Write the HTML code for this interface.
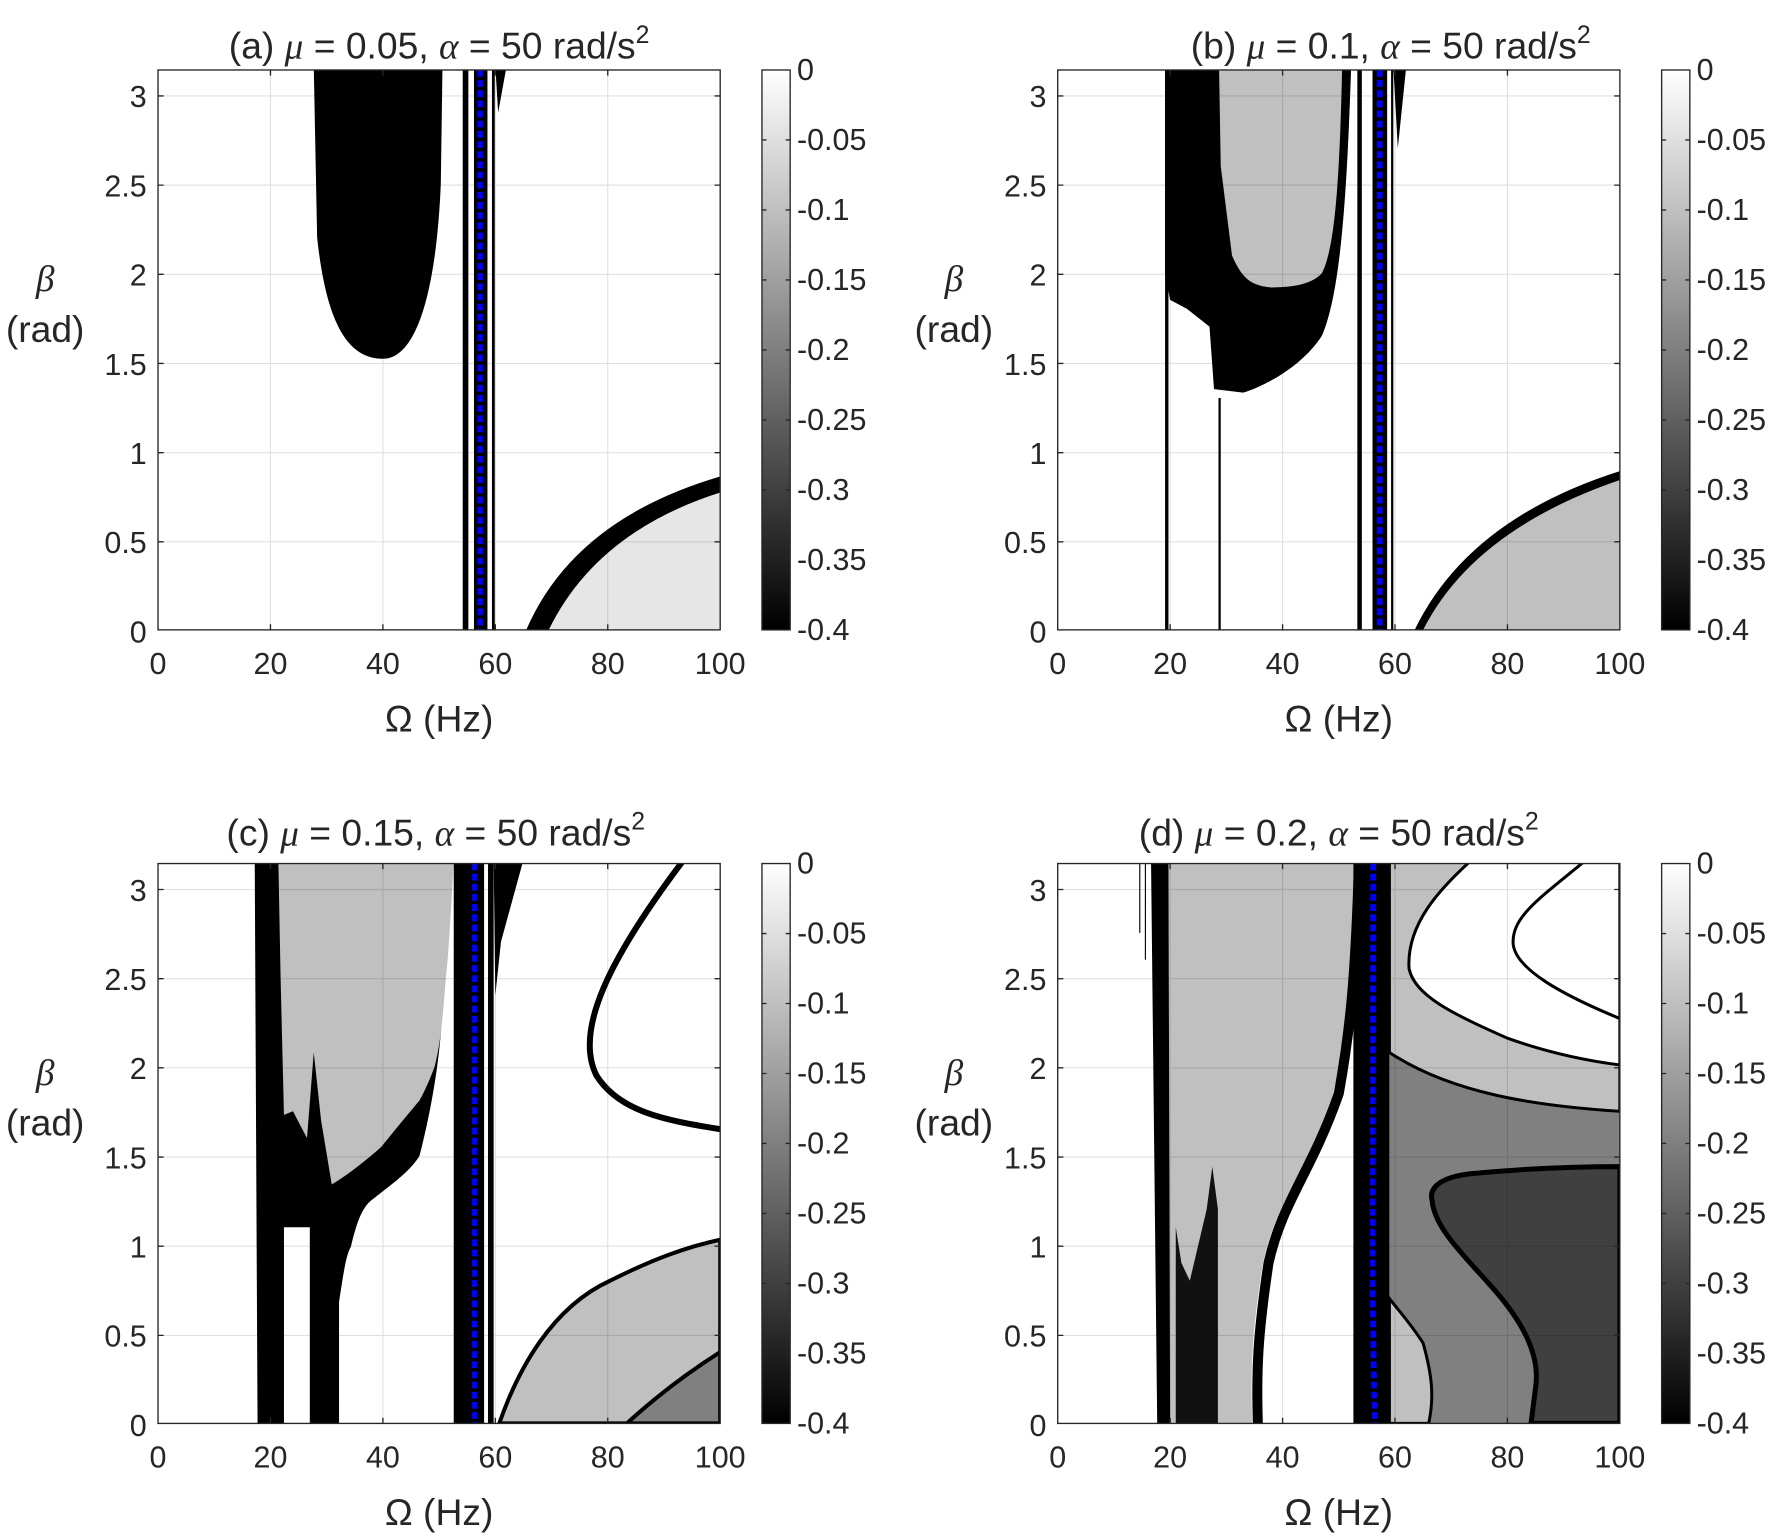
<!DOCTYPE html>
<html><head><meta charset="utf-8"><style>
html,body{margin:0;padding:0;background:#fff;}
svg{display:block;}
text{font-family:"Liberation Sans",Arial,sans-serif;fill:#262626;}
.g{font-family:"Liberation Serif","DejaVu Serif",serif;font-style:italic;}
</style></head><body>
<svg width="1770" height="1538" viewBox="0 0 1568 1362.5" preserveAspectRatio="none" xmlns="http://www.w3.org/2000/svg">
<defs>
<linearGradient id="cb" x1="0" y1="1" x2="0" y2="0"><stop offset="0" stop-color="#000"/><stop offset="1" stop-color="#fff"/></linearGradient>
<clipPath id="clp"><rect x="0" y="0" width="100" height="3.1416"/></clipPath>
</defs>

<!-- ===== Panel A ===== -->
<g transform="translate(140,558) scale(4.98,-158)" clip-path="url(#clp)">
<path d="M27.7,3.16 L28.3,2.2 C30,1.7 34,1.52 40,1.52 C46,1.52 49.5,1.9 50.3,2.5 L50.6,3.16Z" fill="#000"/>
<rect x="54.2" y="0" width="1" height="3.2" fill="#000"/>
<rect x="56.2" y="0" width="2.4" height="3.2" fill="#000"/>
<rect x="59.4" y="0" width="0.5" height="3.2" fill="#000"/>
<path d="M60,3.16 L62,3.16 L60.5,2.9Z" fill="#000"/>
<path d="M65.5,0 Q74,0.62 100,0.86 L100,0Z" fill="#000"/>
<path d="M69.5,0 Q78,0.55 100,0.77 L100,0Z" fill="#e6e6e6"/>
</g>

<!-- ===== Panel B ===== -->
<g transform="translate(937,558) scale(4.98,-158)" clip-path="url(#clp)">
<path d="M19.1,3.16 L52.2,3.16 C51.5,2.5 50.5,1.9 47,1.65 C44,1.5 38,1.38 33,1.33 L27.8,1.35 L27,1.7 L23,1.8 L20,1.85 L19.1,2.0Z" fill="#000"/>
<path d="M28.7,3.16 L50.6,3.16 C50.2,2.6 49.5,2.15 47,2.0 C45,1.93 41,1.92 38,1.92 C35,1.93 33,1.95 31,2.1 L29,2.6Z" fill="#c0c0c0"/>
<rect x="19.1" y="0" width="0.6" height="3.2" fill="#000"/>
<rect x="28.6" y="0" width="0.4" height="1.3" fill="#000"/>
<rect x="53.3" y="0" width="0.8" height="3.2" fill="#000"/>
<rect x="56.0" y="0" width="2.6" height="3.2" fill="#000"/>
<rect x="59.3" y="0" width="0.4" height="3.2" fill="#000"/>
<path d="M59.7,3.16 L62,3.16 L60.5,2.7Z" fill="#000"/>
<path d="M63.5,0 Q73,0.62 100,0.89 L100,0Z" fill="#000"/>
<path d="M65,0 Q74,0.56 100,0.84 L100,0Z" fill="#c0c0c0"/>
</g>

<!-- ===== Panel C ===== -->
<g transform="translate(140,1261) scale(4.98,-158)" clip-path="url(#clp)">
<path d="M17.7,0 L22.4,0 L22.4,1.1 L27,1.1 L27,0 L32.2,0 L32.2,0.68 C33,0.85 33.5,0.95 34.3,0.99 C35.5,1.15 36.5,1.22 38.3,1.26 C42,1.35 45,1.42 46.5,1.5 C49,1.8 50.3,2.1 50.5,2.3 L51.2,3.16 L17.2,3.16Z" fill="#000"/>
<path d="M21.4,3.16 L52.6,3.16 C52,2.8 51.6,2.6 51.2,2.5 C50.5,2.2 50,2.1 49.2,2.0 C48,1.9 47.2,1.85 46.5,1.81 C43,1.68 41,1.6 39.7,1.55 C35,1.42 32,1.36 30.9,1.34 L29,1.7 L27.7,2.08 L26.5,1.6 L24,1.75 L22.4,1.73 L21.8,2.5Z" fill="#c0c0c0"/>
<rect x="52.6" y="0" width="5.4" height="3.2" fill="#000"/>
<rect x="58.7" y="0" width="1" height="3.2" fill="#000"/>
<path d="M59.7,3.16 L65,3.16 L61,2.7 L60,2.4Z" fill="#000"/>
<path d="M60.7,0 C64,0.3 70,0.65 80.4,0.8 C88,0.92 94,0.99 100,1.03 L100,0Z" fill="#c0c0c0" stroke="#000" stroke-width="4" vector-effect="non-scaling-stroke"/>
<path d="M83.4,0 Q91,0.22 100,0.40 L100,0Z" fill="#808080" stroke="#000" stroke-width="4" vector-effect="non-scaling-stroke"/>
<path d="M94,3.18 C80,2.6 74,2.2 78,1.95 C82,1.75 90,1.7 100,1.65" fill="none" stroke="#000" stroke-width="6" vector-effect="non-scaling-stroke"/>
</g>

<!-- ===== Panel D ===== -->
<g transform="translate(937,1261) scale(4.98,-158)" clip-path="url(#clp)">
<path d="M19.7,3.16 L53,3.16 C52.5,2.5 51.5,2.2 49,1.85 C44,1.4 39,1.25 36.5,0.9 C34.5,0.5 34.3,0.3 34.6,0 L20,0Z" fill="#c0c0c0"/>
<path d="M53.6,3.16 C53,2.5 52,2.2 50,1.85 C45,1.4 40,1.25 37.5,0.9 C35.6,0.5 35.3,0.3 35.6,0" fill="none" stroke="#000" stroke-width="10" vector-effect="non-scaling-stroke"/>
<path d="M16.6,3.16 L19.7,3.16 L20,0 L17.7,0Z" fill="#000"/>
<rect x="14.5" y="2.75" width="0.2" height="0.5" fill="#000"/>
<rect x="15.5" y="2.6" width="0.2" height="0.6" fill="#000"/>
<path d="M21,0 L28.5,0 L28.5,1.2 L27.5,1.44 L26.5,1.2 L25,1.0 L23.5,0.8 L22,0.9 L21,1.1Z" fill="#111"/>
<rect x="59" y="0" width="41" height="3.2" fill="#808080"/>
<path d="M59,3.16 L100,3.16 L100,1.75 C85,1.78 70,1.85 59,2.08Z" fill="#c0c0c0" stroke="#000" stroke-width="3" vector-effect="non-scaling-stroke"/>
<path d="M74,3.17 C68,3.0 62,2.8 62.5,2.55 C63.5,2.4 70,2.3 80,2.16 C88,2.07 95,2.03 100,2.01 L100,3.17Z" fill="#fff" stroke="#000" stroke-width="3" vector-effect="non-scaling-stroke"/>
<path d="M94.8,3.18 C86,2.95 81,2.85 81,2.7 C81,2.55 90,2.4 100,2.27" fill="none" stroke="#000" stroke-width="3" vector-effect="non-scaling-stroke"/>
<path d="M59,0 L66,0 C67,0.15 66.6,0.27 65,0.45 C63,0.55 61,0.62 59,0.7Z" fill="#c0c0c0" stroke="#000" stroke-width="3" vector-effect="non-scaling-stroke"/>
<path d="M100,1.44 C90,1.44 80,1.42 73.4,1.40 C68,1.38 66,1.32 66.6,1.25 C67,1.1 72,0.95 76.8,0.78 C82,0.6 86,0.4 85,0.2 L84.2,0 L100,0Z" fill="#404040" stroke="#000" stroke-width="5" vector-effect="non-scaling-stroke"/>
<rect x="52.6" y="0" width="6.4" height="3.2" fill="#000"/>
</g>

<g fill="none" stroke="#000" stroke-opacity="0.12" stroke-width="1">
<path d="M239.6,62V558M339.2,62V558M438.8,62V558M538.4,62V558M140,85H638M140,164H638M140,243H638M140,322H638M140,401H638M140,480H638"/>
<path d="M1036.6,62V558M1136.2,62V558M1235.8,62V558M1335.4,62V558M937,85H1435M937,164H1435M937,243H1435M937,322H1435M937,401H1435M937,480H1435"/>
<path d="M239.6,765V1261M339.2,765V1261M438.8,765V1261M538.4,765V1261M140,788H638M140,867H638M140,946H638M140,1025H638M140,1104H638M140,1183H638"/>
<path d="M1036.6,765V1261M1136.2,765V1261M1235.8,765V1261M1335.4,765V1261M937,788H1435M937,867H1435M937,946H1435M937,1025H1435M937,1104H1435M937,1183H1435"/>
</g>
<g fill="none" stroke="#0000ff" stroke-width="5" stroke-dasharray="6,3">
<path d="M425.4,62V558"/>
<path d="M1222.4,62V558"/>
<path d="M420.5,765V1261"/>
<path d="M1216.5,765L1216,1150L1218,1261"/>
</g>
<g fill="none" stroke="#262626" stroke-width="1.2">
<rect x="140" y="62" width="498" height="496"/>
<rect x="937" y="62" width="498" height="496"/>
<rect x="140" y="765" width="498" height="496"/>
<rect x="937" y="765" width="498" height="496"/>
<path d="M239.6,558v-5M339.2,558v-5M438.8,558v-5M538.4,558v-5M239.6,62v5M339.2,62v5M438.8,62v5M538.4,62v5M140,85h5M140,164h5M140,243h5M140,322h5M140,401h5M140,480h5M638,85h-5M638,164h-5M638,243h-5M638,322h-5M638,401h-5M638,480h-5"/>
<path d="M1036.6,558v-5M1136.2,558v-5M1235.8,558v-5M1335.4,558v-5M1036.6,62v5M1136.2,62v5M1235.8,62v5M1335.4,62v5M937,85h5M937,164h5M937,243h5M937,322h5M937,401h5M937,480h5M1435,85h-5M1435,164h-5M1435,243h-5M1435,322h-5M1435,401h-5M1435,480h-5"/>
<path d="M239.6,1261v-5M339.2,1261v-5M438.8,1261v-5M538.4,1261v-5M239.6,765v5M339.2,765v5M438.8,765v5M538.4,765v5M140,788h5M140,867h5M140,946h5M140,1025h5M140,1104h5M140,1183h5M638,788h-5M638,867h-5M638,946h-5M638,1025h-5M638,1104h-5M638,1183h-5"/>
<path d="M1036.6,1261v-5M1136.2,1261v-5M1235.8,1261v-5M1335.4,1261v-5M1036.6,765v5M1136.2,765v5M1235.8,765v5M1335.4,765v5M937,788h5M937,867h5M937,946h5M937,1025h5M937,1104h5M937,1183h5M1435,788h-5M1435,867h-5M1435,946h-5M1435,1025h-5M1435,1104h-5M1435,1183h-5"/>
</g>

<g stroke="#262626" stroke-width="1.2">
<rect x="675" y="62" width="25" height="496" fill="url(#cb)"/>
<rect x="1472" y="62" width="25" height="496" fill="url(#cb)"/>
<rect x="675" y="765" width="25" height="496" fill="url(#cb)"/>
<rect x="1472" y="765" width="25" height="496" fill="url(#cb)"/>
<path fill="none" d="M675,124h4M675,186h4M675,248h4M675,310h4M675,372h4M675,434h4M675,496h4M700,124h-4M700,186h-4M700,248h-4M700,310h-4M700,372h-4M700,434h-4M700,496h-4"/>
<path fill="none" d="M1472,124h4M1472,186h4M1472,248h4M1472,310h4M1472,372h4M1472,434h4M1472,496h4M1497,124h-4M1497,186h-4M1497,248h-4M1497,310h-4M1497,372h-4M1497,434h-4M1497,496h-4"/>
<path fill="none" d="M675,827h4M675,889h4M675,951h4M675,1013h4M675,1075h4M675,1137h4M675,1199h4M700,827h-4M700,889h-4M700,951h-4M700,1013h-4M700,1075h-4M700,1137h-4M700,1199h-4"/>
<path fill="none" d="M1472,827h4M1472,889h4M1472,951h4M1472,1013h4M1472,1075h4M1472,1137h4M1472,1199h4M1497,827h-4M1497,889h-4M1497,951h-4M1497,1013h-4M1497,1075h-4M1497,1137h-4M1497,1199h-4"/>
</g>

<g font-size="27">
<g>
<text x="706" y="71">0</text><text x="706" y="133">-0.05</text><text x="706" y="195">-0.1</text><text x="706" y="257">-0.15</text><text x="706" y="319">-0.2</text><text x="706" y="381">-0.25</text><text x="706" y="443">-0.3</text><text x="706" y="505">-0.35</text><text x="706" y="567">-0.4</text>
<text x="1503" y="71">0</text><text x="1503" y="133">-0.05</text><text x="1503" y="195">-0.1</text><text x="1503" y="257">-0.15</text><text x="1503" y="319">-0.2</text><text x="1503" y="381">-0.25</text><text x="1503" y="443">-0.3</text><text x="1503" y="505">-0.35</text><text x="1503" y="567">-0.4</text>
<text x="706" y="774">0</text><text x="706" y="836">-0.05</text><text x="706" y="898">-0.1</text><text x="706" y="960">-0.15</text><text x="706" y="1022">-0.2</text><text x="706" y="1084">-0.25</text><text x="706" y="1146">-0.3</text><text x="706" y="1208">-0.35</text><text x="706" y="1270">-0.4</text>
<text x="1503" y="774">0</text><text x="1503" y="836">-0.05</text><text x="1503" y="898">-0.1</text><text x="1503" y="960">-0.15</text><text x="1503" y="1022">-0.2</text><text x="1503" y="1084">-0.25</text><text x="1503" y="1146">-0.3</text><text x="1503" y="1208">-0.35</text><text x="1503" y="1270">-0.4</text>
</g>
<g text-anchor="end">
<text x="130" y="95">3</text><text x="130" y="174">2.5</text><text x="130" y="253">2</text><text x="130" y="332">1.5</text><text x="130" y="411">1</text><text x="130" y="490">0.5</text><text x="130" y="569">0</text>
<text x="927" y="95">3</text><text x="927" y="174">2.5</text><text x="927" y="253">2</text><text x="927" y="332">1.5</text><text x="927" y="411">1</text><text x="927" y="490">0.5</text><text x="927" y="569">0</text>
<text x="130" y="798">3</text><text x="130" y="877">2.5</text><text x="130" y="956">2</text><text x="130" y="1035">1.5</text><text x="130" y="1114">1</text><text x="130" y="1193">0.5</text><text x="130" y="1272">0</text>
<text x="927" y="798">3</text><text x="927" y="877">2.5</text><text x="927" y="956">2</text><text x="927" y="1035">1.5</text><text x="927" y="1114">1</text><text x="927" y="1193">0.5</text><text x="927" y="1272">0</text>
</g>
<g text-anchor="middle">
<text x="140" y="597">0</text><text x="239.6" y="597">20</text><text x="339.2" y="597">40</text><text x="438.8" y="597">60</text><text x="538.4" y="597">80</text><text x="638" y="597">100</text>
<text x="937" y="597">0</text><text x="1036.6" y="597">20</text><text x="1136.2" y="597">40</text><text x="1235.8" y="597">60</text><text x="1335.4" y="597">80</text><text x="1435" y="597">100</text>
<text x="140" y="1300">0</text><text x="239.6" y="1300">20</text><text x="339.2" y="1300">40</text><text x="438.8" y="1300">60</text><text x="538.4" y="1300">80</text><text x="638" y="1300">100</text>
<text x="937" y="1300">0</text><text x="1036.6" y="1300">20</text><text x="1136.2" y="1300">40</text><text x="1235.8" y="1300">60</text><text x="1335.4" y="1300">80</text><text x="1435" y="1300">100</text>
</g>
</g>

<g font-size="33" text-anchor="middle">
<text x="389" y="648">Ω (Hz)</text><text x="1186" y="648">Ω (Hz)</text>
<text x="389" y="1351">Ω (Hz)</text><text x="1186" y="1351">Ω (Hz)</text>
<text x="40" y="258" class="g">β</text><text x="40" y="303">(rad)</text>
<text x="845" y="258" class="g">β</text><text x="845" y="303">(rad)</text>
<text x="40" y="961" class="g">β</text><text x="40" y="1006">(rad)</text>
<text x="845" y="961" class="g">β</text><text x="845" y="1006">(rad)</text>
</g>

<g font-size="33" text-anchor="middle" fill="#000">
<text x="389" y="52">(a) <tspan class="g">μ</tspan> = 0.05, <tspan class="g">α</tspan> = 50 rad/s<tspan font-size="22" dy="-14">2</tspan></text>
<text x="1232" y="52">(b) <tspan class="g">μ</tspan> = 0.1, <tspan class="g">α</tspan> = 50 rad/s<tspan font-size="22" dy="-14">2</tspan></text>
<text x="386" y="749">(c) <tspan class="g">μ</tspan> = 0.15, <tspan class="g">α</tspan> = 50 rad/s<tspan font-size="22" dy="-14">2</tspan></text>
<text x="1186" y="749">(d) <tspan class="g">μ</tspan> = 0.2, <tspan class="g">α</tspan> = 50 rad/s<tspan font-size="22" dy="-14">2</tspan></text>
</g>
</svg>
</body></html>
